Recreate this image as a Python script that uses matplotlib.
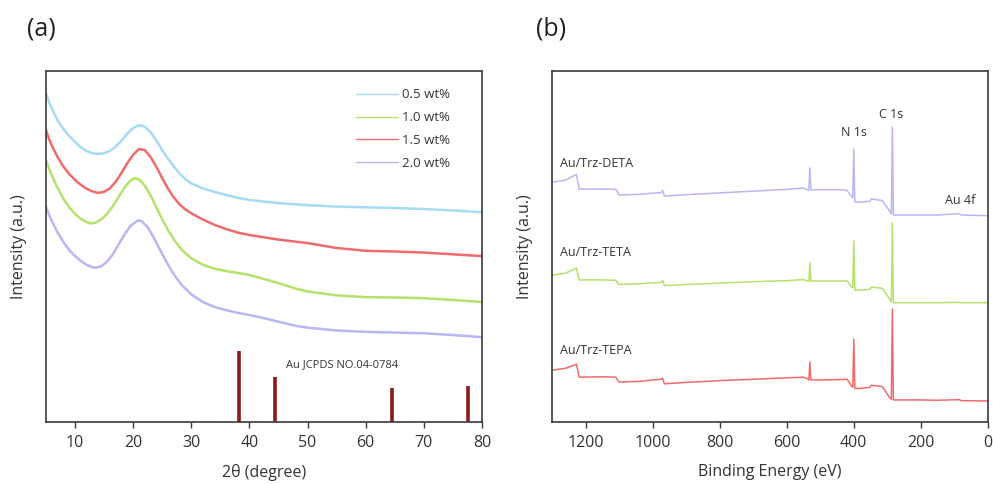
import numpy as np
import matplotlib
matplotlib.use('Agg')
import matplotlib.pyplot as plt

plt.rcParams['font.family'] = ['Open Sans', 'DejaVu Sans']

# ---------------- (a) XRD data (arbitrary units) ----------------
x_05 = [5, 5.5, 6, 7, 8, 9, 10, 11, 12, 13, 14, 15, 16, 17, 18, 19, 20, 21, 22, 23, 24, 25, 26, 27, 28, 29, 30,
        32, 34, 36, 38, 40, 45, 50, 55, 60, 65, 70, 75, 80]
y_05 = [93.7, 91.3, 89.3, 86, 83.5, 81.5, 79.8, 78.3, 77.2, 76.6, 76.4, 76.6, 77.3, 78.5, 80.2, 82.2, 83.8, 84.6,
        84.2, 82.6, 80.2, 77.5, 75, 72.8, 70.8, 69.2, 68, 66.6, 65.6, 64.7, 63.9, 63.3, 62.4, 61.8, 61.4, 61.2,
        61, 60.7, 60.3, 59.8]

x_15 = [5, 5.5, 6, 7, 8, 9, 10, 11, 12, 13, 14, 15, 16, 17, 18, 19, 20, 21, 22, 23, 24, 25, 26, 27, 28, 29, 30,
        32, 34, 36, 38, 40, 45, 50, 55, 60, 65, 70, 75, 80]
y_15 = [83.2, 80.8, 78.8, 75.5, 72.8, 70.7, 69, 67.6, 66.5, 65.7, 65.3, 65.6, 66.6, 68.5, 71, 73.8, 76.2, 77.8,
        77.5, 75.5, 72.7, 69.5, 66.5, 64, 62, 60.6, 59.5, 57.7, 56.2, 55, 54, 53.3, 52, 51, 49.6, 48.8, 48.6,
        48.3, 47.8, 47.3]

x_10 = [5, 5.5, 6, 7, 8, 9, 10, 11, 12, 12.6, 13.5, 14.5, 15.5, 16.5, 17.5, 18.5, 19.5, 20.3, 21, 22, 23, 24, 25,
        26, 27, 28, 29, 30, 32, 34, 36, 38, 40, 42, 45, 48, 50, 55, 60, 65, 70, 75, 80]
y_10 = [74.6, 72.3, 70.3, 66.7, 63.6, 61.2, 59.3, 57.9, 57, 56.6, 56.8, 57.7, 59.3, 61.5, 64.2, 66.8, 68.8, 69.5,
        69.2, 67.4, 64.6, 61.2, 57.8, 54.7, 52, 49.8, 48.1, 46.7, 44.8, 43.7, 43, 42.5, 41.9, 41, 39.6, 38, 37.2,
        36.1, 35.6, 35.5, 35.3, 34.8, 34.2]

x_20 = [5, 5.5, 6, 7, 8, 9, 10, 11, 12, 13, 13.6, 14.5, 15.5, 16.5, 17.5, 18.5, 19.5, 20.8, 21.5, 22.5, 23.5, 24.5,
        25.5, 26.5, 27.5, 28.5, 30, 32, 34, 36, 38, 40, 42, 45, 48, 50, 55, 60, 65, 70, 75, 80]
y_20 = [61.3, 59.2, 57.3, 54, 51.3, 49, 47.3, 45.9, 44.8, 44.1, 44, 44.4, 45.7, 47.8, 50.6, 53.4, 55.8, 57.5, 57.2,
        55.5, 52.7, 49.5, 46.3, 43.4, 40.9, 38.8, 36.4, 34.2, 32.8, 31.9, 31.1, 30.5, 29.8, 28.6, 27.4, 26.9,
        26.1, 25.7, 25.5, 25.3, 24.8, 24.2]

jcpds_pos = [38.2, 44.4, 64.6, 77.6]
jcpds_int = [20.2, 12.8, 9.6, 10.3]

# ---------------- (b) XPS survey data (binding energy, eV) ----------------
be = [1298, 1260, 1227, 1219, 1150, 1110, 1100, 1040, 975, 970, 965, 900, 800, 700, 600, 550, 535,
      534, 531, 528, 500, 440, 420, 405, 403, 400, 397, 380, 352, 348, 315, 295, 288, 285, 282, 200, 150, 85, 80, 0]
deta = [68.4, 68.9, 70.6, 66.4, 66.4, 66.3, 64.7, 64.9, 65.4, 66.0, 64.4, 64.8, 65.3, 65.8, 66.3, 66.7, 66.0,
        66.2, 72.4, 66.2, 66.2, 66.2, 66.0, 64.0, 64.0, 77.8, 62.7, 62.7, 62.9, 63.6, 63.1, 60.4, 59.3, 84.0, 59.0, 59.0, 59.0, 59.4, 59.0, 58.8]
teta = [41.9, 42.4, 43.9, 40.5, 40.5, 40.4, 39.2, 39.4, 39.8, 40.4, 38.9, 39.2, 39.6, 40.0, 40.3, 40.6, 40.0,
        40.2, 45.5, 40.2, 40.2, 40.2, 40.2, 38.3, 38.3, 51.6, 37.6, 37.6, 37.8, 38.5, 38.1, 35.3, 34.2, 56.7, 34.0, 34.0, 34.0, 34.1, 34.0, 34.0]
tepa = [14.8, 15.3, 16.5, 12.8, 12.9, 12.8, 11.4, 11.6, 12.2, 12.5, 10.9, 11.3, 11.8, 12.2, 12.6, 12.8, 12.2,
        12.0, 17.1, 12.0, 12.0, 12.1, 12.2, 10.0, 10.0, 23.6, 9.6, 9.6, 9.9, 10.5, 10.1, 7.2, 6.5, 32.2, 6.3, 6.3, 6.2, 6.4, 6.1, 6.0]

c_blue = '#a6dbf6'
c_green = '#b4e26a'
c_red = '#ef6b6b'
c_lav = '#b7b7f3'
c_bar = '#8b1a1a'
c_text = '#333333'

fig = plt.figure(figsize=(9.93, 4.84), dpi=100)
ax1 = fig.add_axes([0.0463, 0.128, 0.439, 0.725])
ax2 = fig.add_axes([0.5559, 0.128, 0.439, 0.725])

# (a)
l1, = ax1.plot(x_05, y_05, color=c_blue, lw=1.8, label='0.5 wt%')
l2, = ax1.plot(x_10, y_10, color=c_green, lw=1.8, label='1.0 wt%')
l3, = ax1.plot(x_15, y_15, color=c_red, lw=1.8, label='1.5 wt%')
l4, = ax1.plot(x_20, y_20, color=c_lav, lw=1.8, label='2.0 wt%')
ax1.vlines(jcpds_pos, 0, jcpds_int, color=c_bar, lw=2.6)
ax1.text(46.3, 16.5, 'Au JCPDS NO.04-0784', fontsize=8, color=c_text, va='center')
ax1.set_xlim(5, 80)
ax1.set_ylim(0, 100)
ax1.set_xticks([10, 20, 30, 40, 50, 60, 70, 80])
ax1.set_yticks([])
ax1.set_xlabel('2θ (degree)', fontsize=11.5, color=c_text, labelpad=10)
ax1.set_ylabel('Intensity (a.u.)', fontsize=11.5, color=c_text, labelpad=14)
leg = ax1.legend(handles=[l1, l2, l3, l4], loc='upper right', frameon=False, fontsize=9.5,
                 handlelength=3.2, handletextpad=0.3, labelspacing=0.75,
                 bbox_to_anchor=(0.955, 0.985))
for ln in leg.get_lines():
    ln.set_linewidth(1.0)
for t in leg.get_texts():
    t.set_color(c_text)
fig.text(0.027, 0.94, '(a)', fontsize=18, color='#222222', va='center')

# (b)
ax2.plot(be, deta, color=c_lav, lw=1.1)
ax2.plot(be, teta, color=c_green, lw=1.1)
ax2.plot(be, tepa, color=c_red, lw=1.1)
ax2.text(1275, 73.8, 'Au/Trz-DETA', fontsize=9, color=c_text, va='center')
ax2.text(1275, 48.4, 'Au/Trz-TETA', fontsize=9, color=c_text, va='center')
ax2.text(1275, 20.5, 'Au/Trz-TEPA', fontsize=9, color=c_text, va='center')
ax2.text(400, 82.6, 'N 1s', fontsize=9, color=c_text, ha='center', va='center')
ax2.text(290, 87.7, 'C 1s', fontsize=9, color=c_text, ha='center', va='center')
ax2.text(84, 63.2, 'Au 4f', fontsize=9, color=c_text, ha='center', va='center')
ax2.set_xlim(1300, 0)
ax2.set_ylim(0, 100)
ax2.set_xticks([1200, 1000, 800, 600, 400, 200, 0])
ax2.set_yticks([])
ax2.set_xlabel('Binding Energy (eV)', fontsize=11.5, color=c_text, labelpad=10)
ax2.set_ylabel('Intensity (a.u.)', fontsize=11.5, color=c_text, labelpad=14)
fig.text(0.54, 0.94, '(b)', fontsize=18, color='#222222', va='center')

for ax in (ax1, ax2):
    for s in ax.spines.values():
        s.set_color('#3a3a3a')
        s.set_linewidth(1.2)
    ax.tick_params(axis='x', direction='out', length=4, width=1, colors='#3a3a3a',
                   labelsize=11.5, labelcolor=c_text, pad=5)

fig.savefig('out.png', dpi=100)
